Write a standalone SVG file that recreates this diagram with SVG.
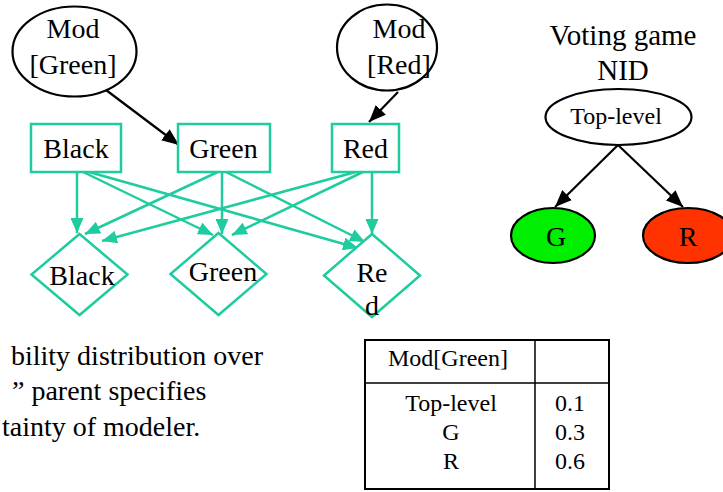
<svg xmlns="http://www.w3.org/2000/svg" width="723" height="492" viewBox="0 0 723 492" font-family="'Liberation Serif', 'Times New Roman', serif">
<style>
.t28{font-size:28px;text-anchor:middle}
.t24{font-size:24px;text-anchor:middle}
.tl{font-size:28px}
.teal{fill:none;stroke:#1ecc9f;stroke-width:2.5}
.tealn{fill:#fff;stroke:#1ecc9f;stroke-width:2.5}
.blk{fill:none;stroke:#000;stroke-width:2.2}
.ell{fill:#fff;stroke:#000;stroke-width:2.2}
</style>
<defs>
<marker id="ah" markerUnits="userSpaceOnUse" markerWidth="15" markerHeight="13" refX="15" refY="6.5" orient="auto">
<path d="M0,0 L15,6.5 L0,13 z" fill="#1ecc9f"/>
</marker>
<marker id="bh" markerUnits="userSpaceOnUse" markerWidth="17" markerHeight="14" refX="17" refY="7" orient="auto">
<path d="M0,0 L17,7 L0,14 z" fill="#000"/>
</marker>
</defs>
<g id="connectors">
<line class="blk" x1="106" y1="90" x2="179" y2="145" marker-end="url(#bh)"/>
<line class="blk" x1="398" y1="92" x2="369" y2="122" marker-end="url(#bh)"/>
<line class="blk" x1="618" y1="145" x2="555" y2="207" marker-end="url(#bh)"/>
<line class="blk" x1="618" y1="145" x2="683" y2="207" marker-end="url(#bh)"/>
<line class="teal" x1="77" y1="170" x2="77" y2="233" marker-end="url(#ah)"/>
<line class="teal" x1="79" y1="170" x2="213" y2="235" marker-end="url(#ah)"/>
<line class="teal" x1="82" y1="170" x2="358" y2="248" marker-end="url(#ah)"/>
<line class="teal" x1="222" y1="170" x2="85" y2="234" marker-end="url(#ah)"/>
<line class="teal" x1="222" y1="170" x2="222" y2="234" marker-end="url(#ah)"/>
<line class="teal" x1="222" y1="170" x2="365" y2="242" marker-end="url(#ah)"/>
<line class="teal" x1="363" y1="170" x2="102" y2="241" marker-end="url(#ah)"/>
<line class="teal" x1="367" y1="170" x2="232" y2="235" marker-end="url(#ah)"/>
<line class="teal" x1="372" y1="170" x2="372" y2="234" marker-end="url(#ah)"/>
</g>
<g id="mod-green">
<ellipse class="ell" cx="74.5" cy="51.5" rx="62" ry="45"/>
<text class="t28" x="73" y="38">Mod</text>
<text class="t28" x="73" y="74">[Green]</text>
</g>
<g id="mod-red">
<ellipse class="ell" cx="387" cy="47.5" rx="50" ry="43"/>
<text class="t28" x="399" y="38">Mod</text>
<text class="t28" x="399" y="74">[Red]</text>
</g>
<g id="dec-black">
<rect class="tealn" x="31" y="124" width="90" height="48"/>
<text class="t28" x="76" y="158">Black</text>
</g>
<g id="dec-green">
<rect class="tealn" x="178" y="124" width="92" height="48"/>
<text class="t28" x="223.5" y="158">Green</text>
</g>
<g id="dec-red">
<rect class="tealn" x="332" y="124" width="67" height="48"/>
<text class="t28" x="365.5" y="158">Red</text>
</g>
<g id="util-black">
<polygon class="tealn" points="79.5,234 127.5,274.5 79.5,315 31.5,274.5"/>
<text class="t28" x="82" y="285">Black</text>
</g>
<g id="util-green">
<polygon class="tealn" points="218.5,233 266.5,274 218.5,315 170.5,274"/>
<text class="t28" x="223" y="281">Green</text>
</g>
<g id="util-red">
<polygon class="tealn" points="372,234 420,275.5 372,317 324,275.5"/>
<text class="t28" x="372" y="282">Re</text>
<text class="t28" x="372" y="315">d</text>
</g>
<g id="title">
<text class="t28" x="623" y="45" style="font-size:29px">Voting game</text>
<text class="t28" x="623" y="80" style="font-size:29px">NID</text>
</g>
<g id="top-level">
<ellipse class="ell" cx="618.5" cy="117" rx="73" ry="28"/>
<text class="t24" x="616" y="124">Top-level</text>
</g>
<g id="node-g">
<ellipse cx="553" cy="235.5" rx="42" ry="27.5" fill="#00ee00" stroke="#000" stroke-width="2.2"/>
<text class="t28" x="556" y="246">G</text>
</g>
<g id="node-r">
<ellipse cx="688" cy="235.5" rx="45" ry="27.5" fill="#ff3300" stroke="#000" stroke-width="2.2"/>
<text class="t28" x="688" y="246">R</text>
</g>
<g id="caption">
<text class="tl" x="11" y="365">bility distribution over</text>
<text class="tl" x="12" y="400">” parent specifies</text>
<text class="tl" x="2" y="436">tainty of modeler.</text>
</g>
<g id="table">
<rect x="365" y="340" width="244" height="149" fill="#fff" stroke="#000" stroke-width="2"/>
<line x1="535" y1="340" x2="535" y2="489" stroke="#000" stroke-width="1.5"/>
<line x1="365" y1="383" x2="609" y2="383" stroke="#000" stroke-width="1.5"/>
<text class="t24" x="448" y="366">Mod[Green]</text>
<text class="t24" x="451" y="411">Top-level</text>
<text class="t24" x="451" y="440">G</text>
<text class="t24" x="451" y="469">R</text>
<text class="t24" x="570" y="411">0.1</text>
<text class="t24" x="570" y="440">0.3</text>
<text class="t24" x="570" y="469">0.6</text>
</g>
</svg>
